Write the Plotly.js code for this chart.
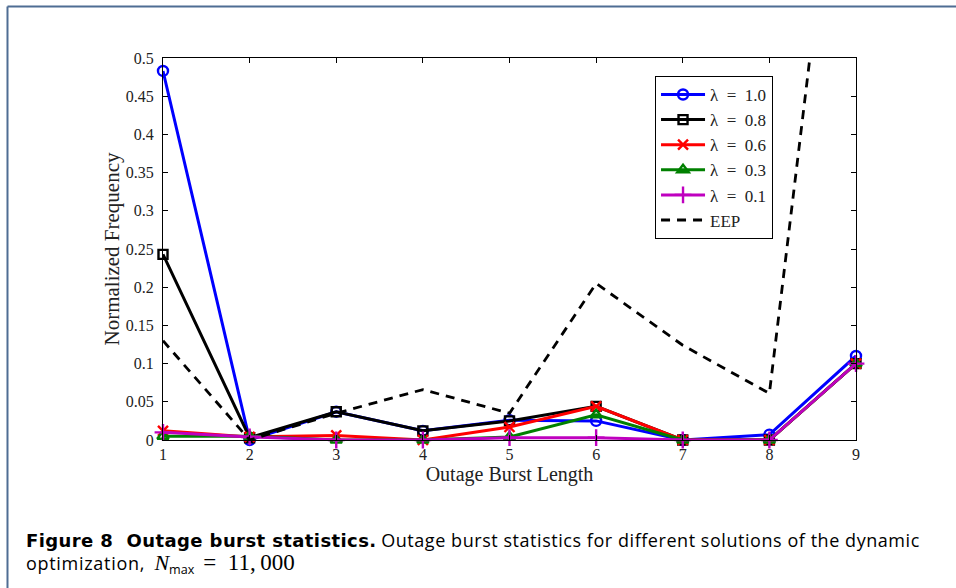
<!DOCTYPE html>
<html>
<head>
<meta charset="utf-8">
<script src="https://cdn.plot.ly/plotly-3.0.1.min.js"></script>
<style>
  html, body { margin: 0; padding: 0; background: #fff; }
  #chart { width: 956px; height: 588px; }
</style>
</head>
<body>
<div id="chart"></div>
<script>
// ---- data ----
const burstLength = [1, 2, 3, 4, 5, 6, 7, 8, 9];
const lambda10 = [0.483, 0.000, 0.037, 0.012, 0.026, 0.025, 0.000, 0.007, 0.110];
const lambda08 = [0.243, 0.003, 0.037, 0.012, 0.025, 0.044, 0.000, 0.000, 0.100];
const lambda06 = [0.012, 0.004, 0.006, 0.000, 0.017, 0.044, 0.000, 0.000, 0.100];
const lambda03 = [0.005, 0.005, 0.000, 0.000, 0.004, 0.033, 0.000, 0.000, 0.100];
const lambda01 = [0.010, 0.004, 0.000, 0.000, 0.003, 0.003, 0.000, 0.000, 0.100];
const eep      = [0.130, 0.000, 0.035, 0.066, 0.035, 0.205, 0.124, 0.061, 1.000];
const seriesNames = ['λ\u2002=\u20021.0', 'λ\u2002=\u20020.8', 'λ\u2002=\u20020.6', 'λ\u2002=\u20020.3', 'λ\u2002=\u20020.1', 'EEP'];
const xTicks = [1, 2, 3, 4, 5, 6, 7, 8, 9];
const yTicks = [0, 0.05, 0.1, 0.15, 0.2, 0.25, 0.3, 0.35, 0.4, 0.45, 0.5];
const yTickText = ['0', '0.05', '0.1', '0.15', '0.2', '0.25', '0.3', '0.35', '0.4', '0.45', '0.5'];

const serif = 'Liberation Serif, Times New Roman, serif';

function series(y, name, color, symbol, size, group) {
  return {
    x: burstLength, y: y, name: name, type: 'scatter', mode: 'lines+markers',
    legendgroup: group,
    line: { color: color, width: 3 },
    marker: { symbol: symbol, size: size, color: color, line: { color: color, width: 2.4 } },
    cliponaxis: false
  };
}

const traces = [
  series(lambda10, seriesNames[0], '#0000ff', 'circle-open', 10, 'g1'),
  series(lambda08, seriesNames[1], '#000000', 'square-open', 9, 'g2'),
  series(lambda06, seriesNames[2], '#ff0000', 'x-thin-open', 10, 'g3'),
  series(lambda03, seriesNames[3], '#008000', 'triangle-up-open', 10, 'g4'),
  series(lambda01, seriesNames[4], '#bf00bf', 'cross-thin-open', 12, 'g5'),
  {
    x: burstLength, y: eep, name: seriesNames[5], type: 'scatter', mode: 'lines',
    legendgroup: 'g6',
    line: { color: '#000000', width: 2.8, dash: '9px,7px' }
  }
];

const axisCommon = {
  showline: true, linecolor: '#000', linewidth: 1, mirror: 'ticks',
  ticks: 'inside', ticklen: 5, tickwidth: 1, tickcolor: '#000',
  showgrid: false, zeroline: false,
  tickfont: { family: serif, size: 16, color: '#222' },
  automargin: false
};

const layout = {
  width: 956, height: 588,
  margin: { l: 163, r: 100, t: 58, b: 148 },
  paper_bgcolor: '#fff', plot_bgcolor: '#fff',
  showlegend: true,
  xaxis: Object.assign({}, axisCommon, {
    range: [1, 9], tickvals: xTicks, ticktext: xTicks.map(String),
    title: { text: 'Outage Burst Length', font: { family: serif, size: 20, color: '#222' }, standoff: 0 }
  }),
  yaxis: Object.assign({}, axisCommon, {
    range: [0, 0.5], tickvals: yTicks, ticktext: yTickText, ticklabelstandoff: 5,
    title: { text: 'Normalized Frequency', font: { family: serif, size: 21, color: '#222' }, standoff: 0 }
  }),
  legend: {
    x: 0.71, y: 0.953, xanchor: 'left', yanchor: 'top',
    bgcolor: '#fff', bordercolor: '#000', borderwidth: 1,
    font: { family: serif, size: 17, color: '#222' },
    tracegroupgap: 0, itemwidth: 44
  },
  shapes: [
    { type: 'line', xref: 'paper', yref: 'paper', x0: -0.2244, x1: -0.2244, y0: 1.1348, y1: -0.40,
      line: { color: '#4f6d93', width: 2 } },
    { type: 'line', xref: 'paper', yref: 'paper', x0: -0.2244, x1: 1.16, y0: 1.1348, y1: 1.1348,
      line: { color: '#4f6d93', width: 2 } }
  ],
  annotations: [
    { xref: 'paper', yref: 'paper', x: (24 - 163) / 693, y: (440 - 540) / 382,
      xanchor: 'left', yanchor: 'middle', showarrow: false, align: 'left',
      font: { family: 'Open Sans, DejaVu Sans, sans-serif', size: 18, color: '#000' },
      text: '<span style="font-family:DejaVu Sans;font-size:18px;letter-spacing:0.4px"><b>Figure 8  Outage burst statistics.</b></span> <span style="letter-spacing:0.55px">Outage burst statistics for different solutions of the dynamic</span>' },
    { xref: 'paper', yref: 'paper', x: (24 - 163) / 693, y: (440 - 564) / 382,
      xanchor: 'left', yanchor: 'middle', showarrow: false, align: 'left',
      font: { family: 'Open Sans, DejaVu Sans, sans-serif', size: 18, color: '#000' },
      text: '<span style="letter-spacing:0.7px">optimization,</span>  <span style="font-family:Liberation Serif;font-style:italic;font-size:22px">N</span><sub>max</sub>\u2002<span style="font-family:Liberation Serif;font-size:23px">=\u200211,\u2009000</span>' }
  ]
};

Plotly.newPlot('chart', traces, layout, { displayModeBar: false, staticPlot: true });
</script>
</body>
</html>
